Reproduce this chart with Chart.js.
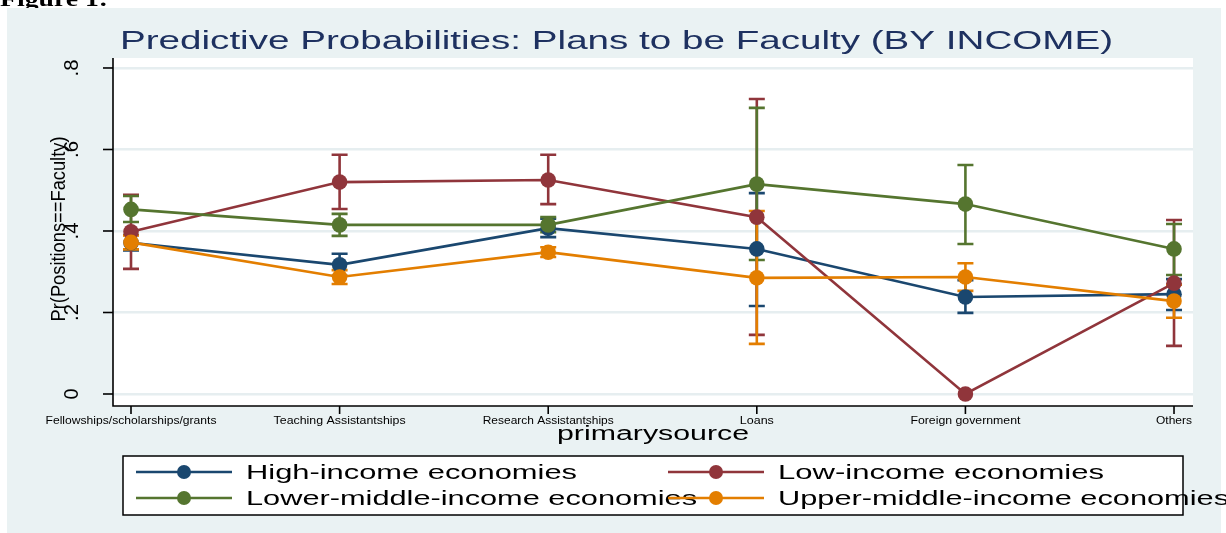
<!DOCTYPE html>
<html>
<head>
<meta charset="utf-8">
<script src="https://cdn.jsdelivr.net/npm/chart.js@4/dist/chart.umd.min.js"></script>
<style>
html,body{margin:0;padding:0;background:#fff;}
canvas{display:block;}
</style>
</head>
<body>
<canvas id="c" width="1226" height="533"></canvas>
<script>
// ---- data ----
const categories = ["Fellowships/scholarships/grants","Teaching Assistantships","Research Assistantships","Loans","Foreign government","Others"];
const yTicks = [0, 0.2, 0.4, 0.6, 0.8];
const yTickLabels = ["0", ".2", ".4", ".6", ".8"];
const seriesNames = ["High-income economies","Low-income economies","Lower-middle-income economies","Upper-middle-income economies"];

const high      = [0.371, 0.317, 0.407, 0.356, 0.238, 0.245];
const highLo    = [0.352, 0.290, 0.385, 0.216, 0.199, 0.206];
const highHi    = [0.390, 0.344, 0.430, 0.493, 0.279, 0.282];

const low       = [0.398, 0.520, 0.525, 0.434, 0.000, 0.272];
const lowLo     = [0.307, 0.454, 0.466, 0.145, 0.000, 0.118];
const lowHi     = [0.489, 0.587, 0.587, 0.724, 0.000, 0.427];

const lowerMid   = [0.453, 0.415, 0.415, 0.515, 0.466, 0.356];
const lowerMidLo = [0.422, 0.388, 0.397, 0.329, 0.368, 0.292];
const lowerMidHi = [0.486, 0.442, 0.434, 0.702, 0.562, 0.417];

const upperMid   = [0.372, 0.287, 0.348, 0.285, 0.287, 0.228];
const upperMidLo = [0.355, 0.270, 0.336, 0.123, 0.253, 0.187];
const upperMidHi = [0.389, 0.304, 0.360, 0.449, 0.321, 0.268];

const colors = ['#1a476f', '#90353b', '#55752f', '#e37e00'];
const values = [high, low, lowerMid, upperMid];
const lows = [highLo, lowLo, lowerMidLo, upperMidLo];
const highs = [highHi, lowHi, lowerMidHi, upperMidHi];

function fitText(ctx, text, x, y, w, font, align, color, baseline) {
  ctx.save();
  ctx.font = font;
  const m = ctx.measureText(text).width;
  ctx.translate(x, y);
  ctx.scale(w / m, 1);
  ctx.textAlign = align;
  ctx.textBaseline = baseline || 'middle';
  ctx.fillStyle = color;
  ctx.fillText(text, 0, 0);
  ctx.restore();
}
function fitTextRot(ctx, text, cx, cy, len, font, color) {
  ctx.save();
  ctx.font = font;
  const m = ctx.measureText(text).width;
  ctx.translate(cx, cy);
  ctx.rotate(-Math.PI / 2);
  ctx.scale(len / m, 1);
  ctx.textAlign = 'center';
  ctx.textBaseline = 'middle';
  ctx.fillStyle = color;
  ctx.fillText(text, 0, 0);
  ctx.restore();
}

const FONT = '"Liberation Sans", Arial, sans-serif';

const stataPlugin = {
  id: 'stata',
  beforeDraw(chart) {
    const ctx = chart.ctx;
    const a = chart.chartArea;
    ctx.save();
    ctx.fillStyle = '#ffffff';
    ctx.fillRect(0, 0, chart.width, chart.height);
    // "Figure 1:" cut-off caption
    fitText(ctx, 'Figure 1:', 0, 6, 108, 'bold 22px "Liberation Serif", "Times New Roman", serif', 'left', '#000', 'alphabetic');
    // graph region background
    ctx.fillStyle = '#eaf2f3';
    ctx.fillRect(7, 8, 1214, chart.height - 8);
    // plot region
    ctx.fillStyle = '#ffffff';
    ctx.fillRect(a.left, a.top, a.right - a.left, a.bottom - a.top);
    ctx.restore();
  },
  beforeDatasetsDraw(chart) {
    const ctx = chart.ctx;
    const a = chart.chartArea;
    const xs = chart.scales.x, ys = chart.scales.y;
    ctx.save();
    // axes
    ctx.strokeStyle = '#000';
    ctx.lineWidth = 1.6;
    ctx.beginPath();
    ctx.moveTo(a.left, a.top);
    ctx.lineTo(a.left, a.bottom);
    ctx.lineTo(a.right, a.bottom);
    ctx.stroke();
    // y ticks
    yTicks.forEach((v) => {
      const y = ys.getPixelForValue(v);
      ctx.beginPath();
      ctx.moveTo(a.left - 10, y);
      ctx.lineTo(a.left, y);
      ctx.stroke();
    });
    // x ticks
    categories.forEach((c, i) => {
      const x = xs.getPixelForValue(i);
      ctx.beginPath();
      ctx.moveTo(x, a.bottom);
      ctx.lineTo(x, a.bottom + 8);
      ctx.stroke();
    });
    // error bars (rcap)
    ctx.lineWidth = 2.6;
    for (let s = 0; s < values.length; s++) {
      ctx.strokeStyle = colors[s];
      for (let i = 0; i < categories.length; i++) {
        if (lows[s][i] === highs[s][i]) continue;
        const x = xs.getPixelForValue(i);
        const y1 = ys.getPixelForValue(lows[s][i]);
        const y2 = ys.getPixelForValue(highs[s][i]);
        ctx.beginPath();
        ctx.moveTo(x, y1); ctx.lineTo(x, y2);
        ctx.moveTo(x - 8, y1); ctx.lineTo(x + 8, y1);
        ctx.moveTo(x - 8, y2); ctx.lineTo(x + 8, y2);
        ctx.stroke();
      }
    }
    ctx.restore();
  },
  afterDraw(chart) {
    const ctx = chart.ctx;
    const xs = chart.scales.x, ys = chart.scales.y;
    // title
    fitText(ctx, 'Predictive Probabilities: Plans to be Faculty (BY INCOME)', 120, 42, 993, '26px ' + FONT, 'left', '#1e3160');
    // y tick labels (rotated)
    yTicks.forEach((v, i) => {
      const y = ys.getPixelForValue(v);
      const len = yTickLabels[i].length === 1 ? 11 : 17;
      fitTextRot(ctx, yTickLabels[i], 72, y, len, '20px ' + FONT, '#000');
    });
    // y title
    fitTextRot(ctx, 'Pr(Positions==Faculty)', 59, 229, 185, '21px ' + FONT, '#000');
    // x tick labels
    const xw = [171, 132, 131, 34, 110, 36];
    categories.forEach((c, i) => {
      const x = xs.getPixelForValue(i);
      fitText(ctx, c, x, 421, xw[i], '10px ' + FONT, 'center', '#000');
    });
    // x title
    fitText(ctx, 'primarysource', 653, 434, 192, '20px ' + FONT, 'center', '#000');
    // legend
    ctx.save();
    ctx.fillStyle = '#fff';
    ctx.fillRect(123, 456, 1060, 59);
    ctx.strokeStyle = '#000';
    ctx.lineWidth = 1.5;
    ctx.strokeRect(123, 456, 1060, 59);
    const pos = [[136, 472], [668, 472], [136, 498], [668, 498]];
    const tw = [331, 326, 451, 451];
    for (let s = 0; s < 4; s++) {
      const [lx, ly] = pos[s];
      ctx.strokeStyle = colors[s];
      ctx.lineWidth = 2.6;
      ctx.beginPath();
      ctx.moveTo(lx, ly); ctx.lineTo(lx + 96, ly);
      ctx.stroke();
      ctx.fillStyle = colors[s];
      ctx.beginPath();
      ctx.arc(lx + 48, ly, 7, 0, Math.PI * 2);
      ctx.fill();
      fitText(ctx, seriesNames[s], lx + 110, ly + 1, tw[s], '20px ' + FONT, 'left', '#000');
    }
    ctx.restore();
  }
};

const datasets = values.map((v, s) => ({
  label: seriesNames[s],
  data: v.map((y, i) => ({ x: i, y: y })),
  borderColor: colors[s],
  backgroundColor: colors[s],
  pointBackgroundColor: colors[s],
  pointBorderWidth: 0,
  pointRadius: 7.8,
  borderWidth: 2.6,
  tension: 0,
  order: 4 - s
}));

new Chart(document.getElementById('c'), {
  type: 'line',
  data: { datasets },
  options: {
    responsive: false,
    animation: false,
    devicePixelRatio: 1,
    layout: { padding: { left: 113, right: 33, top: 58, bottom: 127 } },
    plugins: { legend: { display: false }, tooltip: { enabled: false }, title: { display: false } },
    scales: {
      x: {
        type: 'linear',
        min: -0.0863,
        max: 5.091,
        grid: { display: false, drawTicks: false },
        border: { display: false },
        ticks: { display: false }
      },
      y: {
        type: 'linear',
        min: -0.02945,
        max: 0.8245,
        afterBuildTicks: (scale) => { scale.ticks = yTicks.map(v => ({ value: v })); },
        grid: { color: '#e6eef0', lineWidth: 2.5, drawTicks: false },
        border: { display: false },
        ticks: { display: false }
      }
    }
  },
  plugins: [stataPlugin]
});
</script>
</body>
</html>
